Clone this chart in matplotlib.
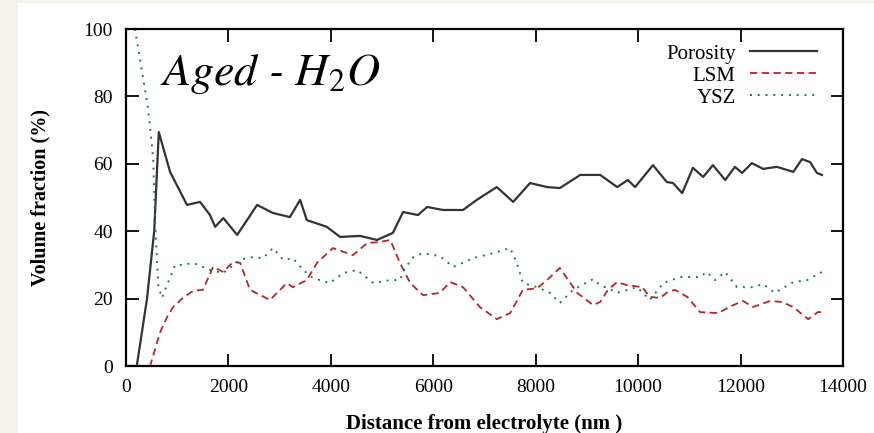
import numpy as np
import matplotlib.pyplot as plt
from matplotlib.patches import Rectangle

# values
por_x = [0, 210, 410, 550, 640, 860, 1190, 1445, 1640, 1740, 1900, 2170, 2560, 2870,
         3200, 3400, 3530, 3920, 4180, 4570, 4900, 5210, 5410, 5700, 5880, 6190, 6580,
         6850, 7240, 7560, 7890, 8220, 8470, 8870, 9260, 9590, 9800, 9940, 10290, 10560,
         10680, 10860, 11070, 11270, 11460, 11700, 11890, 12030, 12220, 12440, 12710,
         13030, 13200, 13360, 13490, 13590]
por_y = [0, 0, 20, 40, 69.4, 57.6, 47.8, 48.7, 44.8, 41.3, 43.9, 38.9, 47.8, 45.4,
         44.2, 49.3, 43.3, 41.3, 38.3, 38.6, 37.4, 39.5, 45.7, 44.8, 47.2, 46.3, 46.3,
         49.3, 53.1, 48.7, 54.3, 53.1, 52.8, 56.7, 56.7, 53.1, 55.2, 53.1, 59.6, 54.6,
         54.3, 51.3, 58.8, 56.1, 59.6, 55.2, 59.1, 57.3, 60.2, 58.5, 59.1,
         57.6, 61.4, 60.5, 57.3, 56.7]

lsm_x = [0, 470, 660, 800, 920, 1110, 1310, 1500, 1700, 1900, 2090, 2230, 2420, 2810,
         3140, 3260, 3530, 3730, 4040, 4430, 4710, 4960, 5160, 5350, 5550, 5800, 6130,
         6330, 6580, 6910, 7240, 7500, 7750, 8030, 8220, 8470, 8810, 9120, 9260, 9410,
         9590, 9780, 10080, 10230, 10430, 10580, 10720, 10960, 11210, 11560, 11860,
         12050, 12240, 12580, 12810, 13030, 13320, 13510, 13610]
lsm_y = [0, 0, 9.8, 14.5, 17.5, 20.2, 22.3, 22.6, 29.4, 27.9, 30.9, 30.6, 22.6, 19.6,
         24.6, 23.4, 25.5, 30.6, 35, 32.9, 36.5, 36.8, 37.4, 30.6, 24.6, 21, 21.7,
         24.9, 23.4, 17.5, 13.9, 15.7, 22.6, 23.1, 25.5, 29.1, 21.7, 18.1, 19, 22.6,
         24.9, 24, 23.4, 20.5, 20.2, 22, 22.6, 20.5, 16, 15.7, 18.1,
         19.3, 17.5, 19.3, 19, 17.5, 13.9, 16, 16]

ysz_x = [175, 430, 530, 570, 630, 700, 800, 960, 1110, 1310, 1640, 1900, 2230, 2420,
         2680, 2870, 3070, 3260, 3460, 3650, 3980, 4240, 4510, 4830, 5160, 5350, 5450,
         5610, 5800, 6130, 6390, 6780, 7170, 7500, 7630, 7750, 8030, 8280, 8470, 8730,
         9120, 9260, 9410, 9590, 9980, 10230, 10490, 10820, 11210, 11340, 11500, 11700,
         11930, 12240, 12440, 12670, 13030, 13300, 13590]
ysz_y = [100, 76.5, 61.7, 41.8, 24, 20.2, 24, 30, 30, 30.6, 28.5, 27.6, 31.5, 32.3,
         32, 35, 31.5, 32, 28.5, 26.1, 24.6, 27.6, 28.5, 24.6, 25.5, 25.5, 29.1,
         32.3, 33.5, 32.6, 29.4, 32, 33.5, 35, 30.6, 24.6, 23.4, 21.7, 18.7, 22.6,
         25.8, 24, 23.1, 21.7, 23.4, 19.6, 24.6, 26.4, 26.4, 27.9, 25.5, 27.9,
         23.4, 23.4, 24.3, 21.7, 24.9, 25.5, 27.9]

plt.rcParams['font.family'] = ['Liberation Serif', 'DejaVu Serif']
plt.rcParams['mathtext.fontset'] = 'stix'
plt.rcParams['mathtext.default'] = 'it'

fig = plt.figure(figsize=(8.74, 4.33), dpi=100, facecolor='#f3f3ea')
# white panel inside the beige border
panel = Rectangle((18 / 874, 0), 1, 1 - 3 / 433, transform=fig.transFigure,
                  facecolor='white', edgecolor='none', zorder=-10)
fig.add_artist(panel)

ax = fig.add_axes([0.1442, 0.1547, 0.8203, 0.7783])
ax.set_facecolor('white')

ax.plot(por_x, por_y, color='#333333', lw=1.6, label='Porosity')
ax.plot(lsm_x, lsm_y, color='#b3262a', lw=1.3, ls=(0, (4, 2.5)), label='LSM')
ax.plot(ysz_x, ysz_y, color='#1d7a42', lw=1.4, ls=(0, (1, 3)), label='YSZ')

ax.set_xlim(0, 14000)
ax.set_ylim(0, 100)
ax.set_xticks(np.arange(0, 14001, 2000))
ax.set_yticks(np.arange(0, 101, 20))
ax.tick_params(direction='in', length=9, width=1.3, top=True, right=True,
               labelsize=14, pad=9.5)
for s in ax.spines.values():
    s.set_linewidth(1.6)

ax.set_xlabel('Distance from electrolyte (nm )', fontsize=15, fontweight='bold', labelpad=13)
ax.set_ylabel('Volume fraction (%)', fontsize=14.5, fontweight='bold', labelpad=24)

ax.text(0.047, 0.834, 'Aged - H$_2$O', transform=ax.transAxes, family='STIXGeneral',
        style='italic', fontsize=33, ha='left', va='baseline')

leg = ax.legend(loc='upper right', frameon=False, markerfirst=False, fontsize=15,
                handlelength=3.2, handletextpad=0.7, labelspacing=0.12,
                borderpad=0, borderaxespad=0,
                bbox_to_anchor=((817 - 126) / 717, (366 - 44) / 337))
for t in leg.get_texts():
    t.set_ha('right')

fig.savefig('out.png', dpi=100, facecolor=fig.get_facecolor())
